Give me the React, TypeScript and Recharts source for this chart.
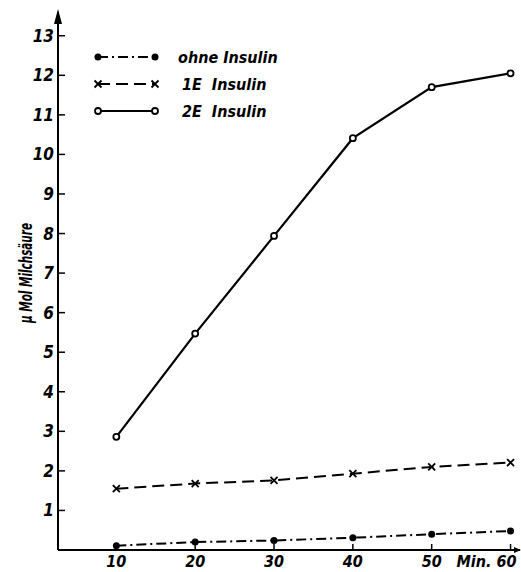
import React from "react";
import { LineChart, Line, XAxis, YAxis, Legend } from "recharts";

const minutes = [10, 20, 30, 40, 50, 60];
const ohneInsulin = [0.11, 0.2, 0.24, 0.31, 0.4, 0.48];
const einE = [1.55, 1.68, 1.76, 1.93, 2.1, 2.21];
const zweiE = [2.86, 5.47, 7.94, 10.41, 11.7, 12.05];
const yTicks = [1, 2, 3, 4, 5, 6, 7, 8, 9, 10, 11, 12, 13];
const seriesNames = ["ohne Insulin", "1E  Insulin", "2E  Insulin"];

const data = minutes.map((m, i) => ({
  min: m,
  ohne: ohneInsulin[i],
  e1: einE[i],
  e2: zweiE[i],
}));

const font = "'DejaVu Sans Condensed', 'DejaVu Sans', sans-serif";

const XTick = (props: any) => {
  const { x, y, payload } = props;
  const isLast = payload.value === 60;
  return (
    <g>
      <line x1={x} y1={y} x2={x} y2={y - 6} stroke="#000" strokeWidth={1.5} />
      <text
        x={isLast ? x + 6 : x}
        y={y + 17}
        textAnchor={isLast ? "end" : "middle"}
        fontFamily={font}
        fontStyle="italic"
        fontWeight={600}
        fontSize={16}
        fill="#000"
      >
        {isLast ? "Min. 60" : payload.value}
      </text>
    </g>
  );
};

const YTick = (props: any) => {
  const { x, y, payload } = props;
  return (
    <g>
      <line x1={x} y1={y} x2={x + 7} y2={y} stroke="#000" strokeWidth={1.5} />
      <text
        x={x - 4}
        y={y + 6}
        textAnchor="end"
        fontFamily={font}
        fontStyle="italic"
        fontWeight={600}
        fontSize={17}
        fill="#000"
      >
        {payload.value}
      </text>
    </g>
  );
};

const YLabel = (props: any) => {
  const { viewBox } = props;
  const ax = viewBox.x + viewBox.width;
  const top = viewBox.y;
  return (
    <g>
      <polygon points={`${ax},${top - 3} ${ax - 4},${top + 12} ${ax + 4},${top + 12}`} fill="#000" />
      <text
        x={32}
        y={273}
        transform="rotate(-90 32 273)"
        textAnchor="middle"
        fontFamily={font}
        fontStyle="italic"
        fontWeight={600}
        fontSize={18}
        textLength={100}
        lengthAdjust="spacingAndGlyphs"
        fill="#000"
      >
        µ Mol Milchsäure
      </text>
    </g>
  );
};

const XLabel = (props: any) => {
  const { viewBox } = props;
  const right = viewBox.x + viewBox.width;
  const ay = viewBox.y;
  return <polygon points={`${right + 1},${ay} ${right - 6},${ay - 3} ${right - 6},${ay + 3}`} fill="#000" />;
};

const FilledDot = (props: any) => {
  const { cx, cy, index } = props;
  return <circle key={"f" + index} cx={cx} cy={cy} r={3.5} fill="#000" />;
};

const CrossDot = (props: any) => {
  const { cx, cy, index } = props;
  const s = 3.5;
  return (
    <path
      key={"c" + index}
      d={`M${cx - s},${cy - s}L${cx + s},${cy + s}M${cx - s},${cy + s}L${cx + s},${cy - s}`}
      stroke="#000"
      strokeWidth={1.8}
    />
  );
};

const OpenDot = (props: any) => {
  const { cx, cy, index } = props;
  return <circle key={"o" + index} cx={cx} cy={cy} r={3} fill="#fff" stroke="#000" strokeWidth={1.8} />;
};

const dashes = ["10 4 2 4", "12 6", undefined];

const LegendContent = () => {
  const rows = [57, 84, 111];
  return (
    <svg width={240} height={130}>
      {seriesNames.map((name, i) => {
        const y = rows[i] - 40;
        return (
          <g key={name}>
            <line x1={8} y1={y} x2={65} y2={y} stroke="#000" strokeWidth={2} strokeDasharray={dashes[i]} />
            {i === 0 && (
              <>
                <circle cx={8} cy={y} r={3.5} fill="#000" />
                <circle cx={65} cy={y} r={3.5} fill="#000" />
              </>
            )}
            {i === 1 && (
              <>
                <path d={`M4.5,${y - 3.5}L11.5,${y + 3.5}M4.5,${y + 3.5}L11.5,${y - 3.5}`} stroke="#000" strokeWidth={1.8} />
                <path d={`M61.5,${y - 3.5}L68.5,${y + 3.5}M61.5,${y + 3.5}L68.5,${y - 3.5}`} stroke="#000" strokeWidth={1.8} />
              </>
            )}
            {i === 2 && (
              <>
                <circle cx={8} cy={y} r={3} fill="#fff" stroke="#000" strokeWidth={1.8} />
                <circle cx={65} cy={y} r={3} fill="#fff" stroke="#000" strokeWidth={1.8} />
              </>
            )}
            <text
              x={i === 0 ? 88 : 92}
              y={y + 6}
              fontFamily={font}
              fontStyle="italic"
              fontWeight={600}
              fontSize={16}
              fill="#000"
              xmlSpace="preserve"
            >
              {name}
            </text>
          </g>
        );
      })}
    </svg>
  );
};

const App = () => {
  return (
    <div style={{ position: "absolute", left: 0, top: 0, background: "#fff" }}>
      <LineChart width={521} height={572} data={data} margin={{ top: 12, right: 1, left: 0, bottom: 0 }}>
        <XAxis
          dataKey="min"
          type="number"
          domain={[2.6, 61.2]}
          ticks={minutes}
          allowDataOverflow
          height={22}
          tickSize={0}
          tickMargin={0}
          tickLine={false}
          tick={<XTick />}
          axisLine={{ stroke: "#000", strokeWidth: 2 }}
          label={<XLabel />}
        />
        <YAxis
          type="number"
          domain={[0, 13.6]}
          ticks={yTicks}
          allowDataOverflow
          width={58}
          tickSize={0}
          tickMargin={0}
          tickLine={false}
          tick={<YTick />}
          axisLine={{ stroke: "#000", strokeWidth: 2 }}
          label={<YLabel />}
        />
        <Legend
          layout="vertical"
          align="center"
          verticalAlign="middle"
          content={<LegendContent />}
          wrapperStyle={{ position: "absolute", left: 90, top: 40, width: 240, height: 130 }}
        />
        <Line
          name={seriesNames[0]}
          dataKey="ohne"
          stroke="#000"
          strokeWidth={2}
          strokeDasharray="10 4 2 4"
          dot={<FilledDot />}
          isAnimationActive={false}
        />
        <Line
          name={seriesNames[1]}
          dataKey="e1"
          stroke="#000"
          strokeWidth={2}
          strokeDasharray="12 6"
          dot={<CrossDot />}
          isAnimationActive={false}
        />
        <Line
          name={seriesNames[2]}
          dataKey="e2"
          stroke="#000"
          strokeWidth={2.2}
          dot={<OpenDot />}
          isAnimationActive={false}
        />
      </LineChart>
    </div>
  );
};

export default App;
